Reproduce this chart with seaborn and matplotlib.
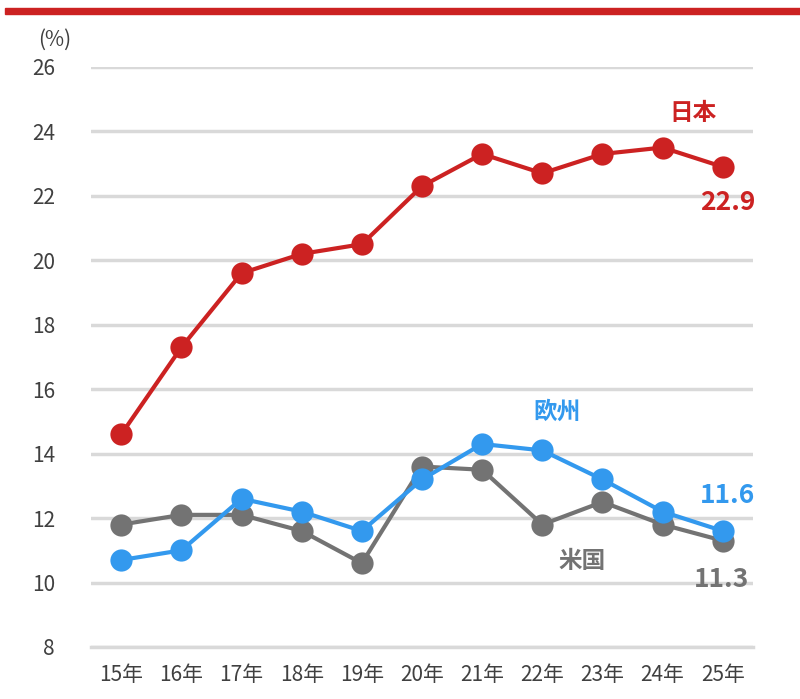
import numpy as np
import pandas as pd
import matplotlib
matplotlib.use('Agg')
import matplotlib.pyplot as plt
from matplotlib.patches import Rectangle
import seaborn as sns

# data
years = ['15年', '16年', '17年', '18年', '19年', '20年', '21年', '22年', '23年', '24年', '25年']
japan = [14.6, 17.3, 19.6, 20.2, 20.5, 22.3, 23.3, 22.7, 23.3, 23.5, 22.9]
europe = [10.7, 11.0, 12.6, 12.2, 11.6, 13.2, 14.3, 14.1, 13.2, 12.2, 11.6]
usa = [11.8, 12.1, 12.1, 11.6, 10.6, 13.6, 13.5, 11.8, 12.5, 11.8, 11.3]
regions = ['米国', '欧州', '日本']

colors = {'日本': '#cc2222', '欧州': '#3399ee', '米国': '#737373'}

sns.set_style('white')
plt.rcParams['font.family'] = ['Noto Sans CJK JP', 'DejaVu Sans']

# long format table for seaborn
df = pd.DataFrame({
    'x': list(range(len(years))) * 3,
    'value': usa + europe + japan,
    'region': [r for r in regions for _ in years],
})

fig = plt.figure(figsize=(8, 6.99), dpi=100)
ax = fig.add_axes([0.114, 0.0744, 0.827, 0.8298])

sns.lineplot(data=df, x='x', y='value', hue='region', hue_order=regions,
             palette=colors, marker='o', markersize=16, linewidth=3,
             markeredgewidth=0, legend=False, ax=ax)

ax.set_xlim(-0.5, len(years) - 0.5)
ax.set_ylim(8, 26)
ax.set_yticks(np.arange(8, 27, 2))
ax.set_xticks(range(len(years)))
ax.set_xticklabels(years)
ax.set_xticks(np.arange(-0.5, len(years), 1), minor=True)
ax.set_xlabel('')
ax.set_ylabel('')

ax.grid(axis='y', color='#d9d9d9', linewidth=2.5)
ax.set_axisbelow(True)
for s in ['top', 'right', 'left']:
    ax.spines[s].set_visible(False)
ax.spines['bottom'].set_color('#d9d9d9')
ax.spines['bottom'].set_linewidth(2.5)

ax.tick_params(axis='y', length=0, labelsize=15, labelcolor='#404040', pad=26)
ax.tick_params(axis='x', which='major', length=0, labelsize=15, labelcolor='#404040', pad=12)
ax.tick_params(axis='x', which='minor', length=7, width=2, color='#d9d9d9')

# series labels
ax.text(9.5, 24.57, '日本', color=colors['日本'], fontsize=17, fontweight='bold', ha='center', va='center')
ax.text(10.08, 21.8, '22.9', color=colors['日本'], fontsize=19, fontweight='bold', ha='center', va='center')
ax.text(7.24, 15.3, '欧州', color=colors['欧州'], fontsize=17, fontweight='bold', ha='center', va='center')
ax.text(10.08, 12.7, '11.6', color=colors['欧州'], fontsize=19, fontweight='bold', ha='center', va='center')
ax.text(7.67, 10.67, '米国', color=colors['米国'], fontsize=17, fontweight='bold', ha='center', va='center')
ax.text(9.98, 10.1, '11.3', color=colors['米国'], fontsize=19, fontweight='bold', ha='center', va='center')

fig.text(55 / 800, 1 - 40 / 699, '(%)', color='#404040', fontsize=15, ha='center', va='center')

# red band at the top
fig.patches.append(Rectangle((5 / 800, 1 - 14 / 699), 1, 6 / 699, transform=fig.transFigure,
                             color='#cc2222', zorder=5))

fig.savefig('out.png', dpi=100)
